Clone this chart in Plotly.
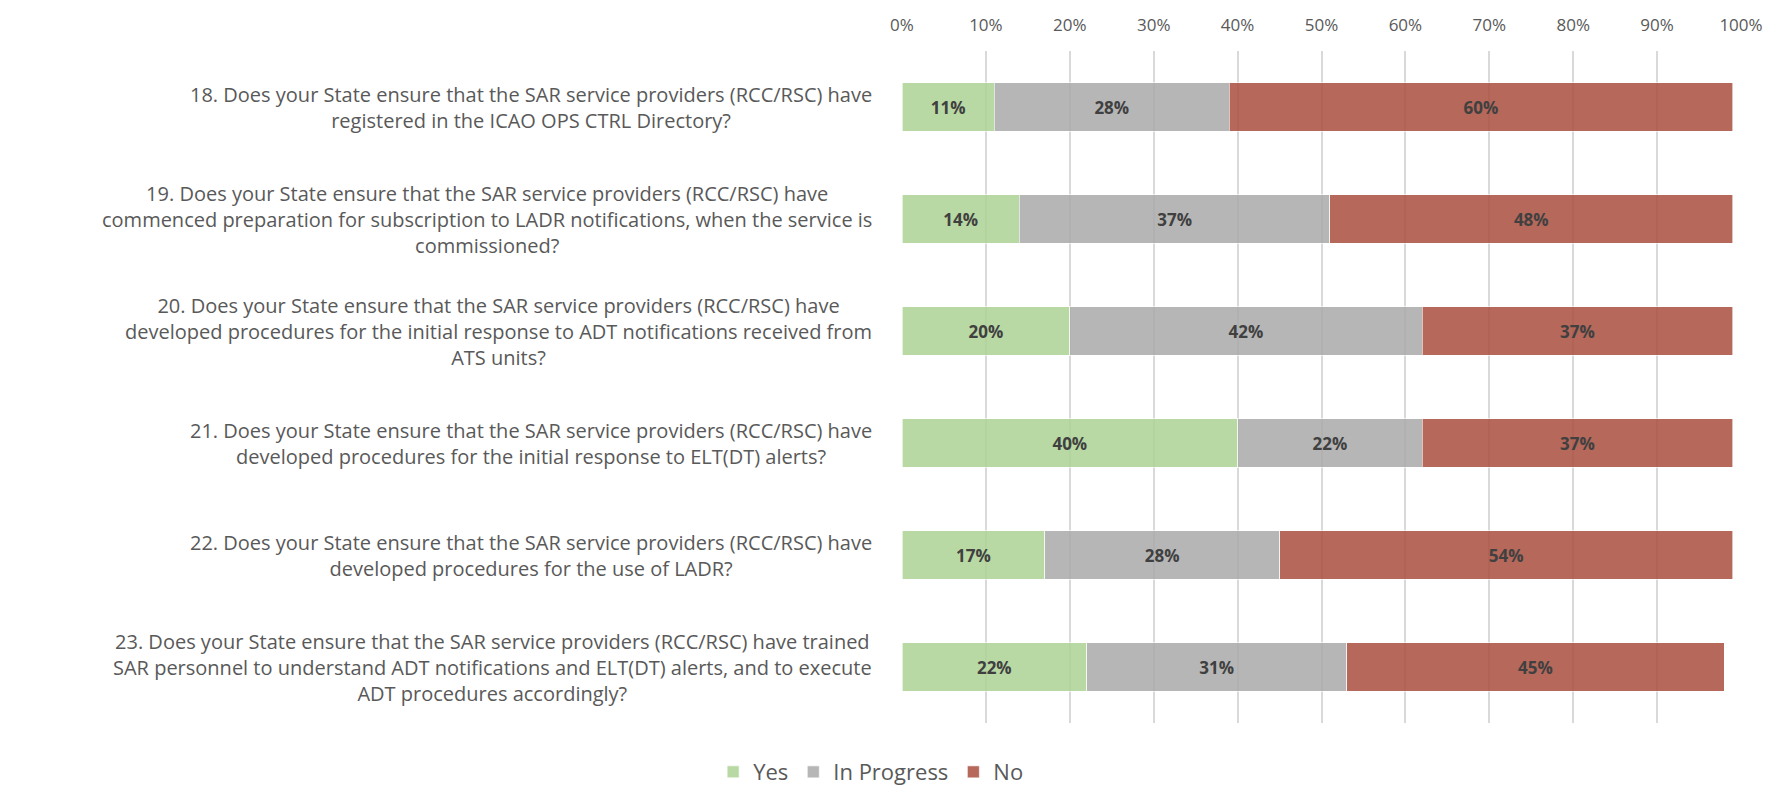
import plotly.graph_objects as go

questions = [
    "18. Does your State ensure that the SAR service providers (RCC/RSC) have<br>registered in the ICAO OPS CTRL Directory?",
    "19. Does your State ensure that the SAR service providers (RCC/RSC) have<br>commenced preparation for subscription to LADR notifications, when the service is<br>commissioned?",
    "20. Does your State ensure that the SAR service providers (RCC/RSC) have<br>developed procedures for the initial response to ADT notifications received from<br>ATS units?",
    "21. Does your State ensure that the SAR service providers (RCC/RSC) have<br>developed procedures for the initial response to ELT(DT) alerts?",
    "22. Does your State ensure that the SAR service providers (RCC/RSC) have<br>developed procedures for the use of LADR?",
    "23. Does your State ensure that the SAR service providers (RCC/RSC) have trained<br>SAR personnel to understand ADT notifications and ELT(DT) alerts, and to execute<br>ADT procedures accordingly?",
]
row_ids = ["q18", "q19", "q20", "q21", "q22", "q23"]

yes = [11, 14, 20, 40, 17, 22]
in_progress = [28, 37, 42, 22, 28, 31]
no = [60, 48, 37, 37, 54, 45]

series = [
    ("Yes", yes, "rgba(173,210,148,0.85)"),
    ("In Progress", in_progress, "rgba(169,169,169,0.85)"),
    ("No", no, "rgba(169,77,62,0.85)"),
]

FONT = "Open Sans"

fig = go.Figure()
for name, vals, color in series:
    fig.add_trace(go.Bar(
        name=name,
        y=row_ids,
        x=vals,
        orientation="h",
        marker=dict(color=color, line=dict(color="rgba(255,255,255,0.6)", width=1)),
        text=[f"{v}%" for v in vals],
        textposition="inside",
        insidetextanchor="middle",
        textangle=0,
        textfont=dict(family=FONT, size=17, color="#404040", weight="bold"),
        hoverinfo="skip",
    ))

# question texts, centred lines, right edge next to the plot
for rid, q in zip(row_ids, questions):
    fig.add_annotation(
        x=0, xref="paper", xshift=-28, xanchor="right",
        y=rid, yref="y",
        text=q, showarrow=False, align="center",
        font=dict(family=FONT, size=20, color="#595959"),
    )

# the page body adds 8px on the top and left
fig.update_layout(
    barmode="stack",
    bargap=0.57,
    width=1776,
    height=795,
    margin=dict(l=894, r=43, t=43, b=80, autoexpand=False),
    paper_bgcolor="white",
    plot_bgcolor="white",
    font=dict(family=FONT, color="#595959"),
    uniformtext=dict(mode="show", minsize=10),
    legend=dict(
        orientation="h", x=0.486, xanchor="center", y=-0.073, yanchor="middle",
        xref="container", font=dict(family=FONT, size=22, color="#595959"),
        traceorder="normal",
    ),
    xaxis=dict(
        side="top", range=[0, 100], dtick=10, ticksuffix="%",
        showgrid=True, gridcolor="#d9d9d9", gridwidth=1.5,
        zeroline=False, showline=False,
        tickfont=dict(family=FONT, size=17, color="#595959"),
        ticklabelstandoff=16,
        fixedrange=True,
    ),
    yaxis=dict(
        autorange="reversed", showticklabels=False, showgrid=False,
        zeroline=False, showline=False, fixedrange=True,
    ),
)

fig.write_html("out.html")
